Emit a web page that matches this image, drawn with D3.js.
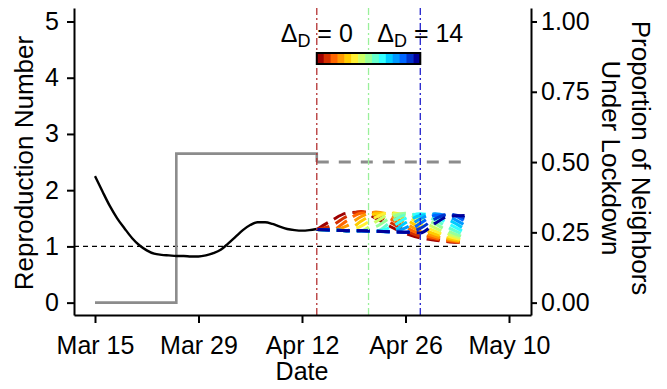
<!DOCTYPE html>
<html>
<head>
<meta charset="utf-8">
<script src="https://cdn.jsdelivr.net/npm/d3@7/dist/d3.min.js"></script>
<style>
  html, body { margin: 0; padding: 0; background: #fff; }
  svg { display: block; font-family: "Liberation Sans", Arial, Helvetica, sans-serif; }
</style>
</head>
<body>
<svg id="chart" width="667" height="389"></svg>
<script>
// Estimated reproduction number, daily from Mar 15 to Apr 14
const rStart = "2020-03-15";
const rValues = [2.25, 1.98, 1.72, 1.50, 1.32, 1.15, 1.02, 0.93, 0.87, 0.85,
                 0.84, 0.83, 0.83, 0.82, 0.82, 0.84, 0.88, 0.94, 1.05, 1.17,
                 1.29, 1.38, 1.43, 1.43, 1.40, 1.35, 1.31, 1.29, 1.28, 1.29, 1.31];

// Proportion of neighbours under lockdown (right axis)
const lockDates = ["2020-03-15", "2020-03-26", "2020-04-14", "2020-04-14"];
const lockValues = [0, 0.53, 0.53, 0.50];
const lockProjDates = ["2020-04-14", "2020-05-04"];
const lockProjValues = [0.50, 0.50];

// Projected R for lockdown lifted Δ_D days after Apr 14 (every two days)
const fanDates = ["2020-04-14", "2020-04-16", "2020-04-18", "2020-04-20", "2020-04-22",
                  "2020-04-24", "2020-04-26", "2020-04-28", "2020-04-30", "2020-05-02", "2020-05-04"];
const deltas = [0, 1, 2, 3, 4, 5, 6, 7, 8, 9, 10, 11, 12, 13, 14];
const fanD0  = [1.30, 1.46, 1.59, 1.61, 1.50, 1.35, 1.23, 1.15, 1.11, 1.08, 1.07];
const fanD1  = [1.30, 1.37, 1.53, 1.62, 1.56, 1.42, 1.28, 1.18, 1.13, 1.09, 1.07];
const fanD2  = [1.30, 1.29, 1.45, 1.59, 1.60, 1.49, 1.34, 1.22, 1.15, 1.10, 1.07];
const fanD3  = [1.30, 1.29, 1.36, 1.53, 1.61, 1.55, 1.41, 1.27, 1.18, 1.12, 1.08];
const fanD4  = [1.30, 1.29, 1.28, 1.45, 1.58, 1.59, 1.48, 1.33, 1.22, 1.14, 1.09];
const fanD5  = [1.30, 1.29, 1.28, 1.36, 1.52, 1.60, 1.54, 1.40, 1.27, 1.17, 1.11];
const fanD6  = [1.30, 1.29, 1.28, 1.28, 1.44, 1.57, 1.58, 1.47, 1.33, 1.21, 1.13];
const fanD7  = [1.30, 1.29, 1.28, 1.28, 1.35, 1.51, 1.59, 1.53, 1.40, 1.26, 1.16];
const fanD8  = [1.30, 1.29, 1.28, 1.28, 1.27, 1.43, 1.56, 1.57, 1.47, 1.32, 1.20];
const fanD9  = [1.30, 1.29, 1.28, 1.28, 1.27, 1.34, 1.50, 1.58, 1.53, 1.39, 1.25];
const fanD10 = [1.30, 1.29, 1.28, 1.28, 1.27, 1.26, 1.42, 1.55, 1.57, 1.46, 1.31];
const fanD11 = [1.30, 1.29, 1.28, 1.28, 1.27, 1.26, 1.33, 1.49, 1.58, 1.52, 1.38];
const fanD12 = [1.30, 1.29, 1.28, 1.28, 1.27, 1.26, 1.25, 1.41, 1.55, 1.56, 1.45];
const fanD13 = [1.30, 1.29, 1.28, 1.28, 1.27, 1.26, 1.25, 1.32, 1.49, 1.57, 1.51];
const fanD14 = [1.30, 1.29, 1.28, 1.28, 1.27, 1.26, 1.25, 1.24, 1.41, 1.54, 1.55];
const fanSeries = [fanD0, fanD1, fanD2, fanD3, fanD4, fanD5, fanD6, fanD7,
                   fanD8, fanD9, fanD10, fanD11, fanD12, fanD13, fanD14];
const deltaColors = ["#9e0000", "#d42f00", "#ff6600", "#ff9900", "#ffcc00",
                     "#fff033", "#ccff66", "#99ff99", "#66ffcc", "#33ffff",
                     "#00ccff", "#0099ff", "#0066ff", "#0033cc", "#000099"];

// Reference lines for lifting dates (Δ_D = 0, 7, 14)
const liftDates = ["2020-04-14", "2020-04-21", "2020-04-28"];
const liftColors = ["#b43232", "#9af09a", "#2222cc"];

// Axis ticks
const xTickDates = ["2020-03-15", "2020-03-29", "2020-04-12", "2020-04-26", "2020-05-10"];
const yLeftTicks = [0, 1, 2, 3, 4, 5];
const yRightTicks = [0, 0.25, 0.5, 0.75, 1];

const parse = d3.timeParse("%Y-%m-%d");
const svg = d3.select("#chart");
const FS = 25;

// Scales
const x = d3.scaleTime()
  .domain([parse("2020-03-15"), parse("2020-05-10")])
  .range([95, 509]);
x.domain([x.invert(74), x.invert(531)]).range([74, 531]);
const yL = d3.scaleLinear().domain([-0.22, 5.24]).range([315, 8]);
const yR = d3.scaleLinear().domain([-0.044, 1.048]).range([315, 8]);
const col = d3.scaleOrdinal().domain(deltas).range(deltaColors);

const rDates = rValues.map((_, i) => d3.timeDay.offset(parse(rStart), i));

// Threshold R = 1
svg.append("line")
  .attr("x1", x.range()[0]).attr("x2", x.range()[1])
  .attr("y1", yL(1)).attr("y2", yL(1))
  .attr("stroke", "#000").attr("stroke-width", 1.3)
  .attr("stroke-dasharray", "5,4");

// Lockdown proportion
svg.append("path")
  .datum(lockDates.map((d, i) => [parse(d), lockValues[i]]))
  .attr("fill", "none").attr("stroke", "#8c8c8c").attr("stroke-width", 2.6)
  .attr("d", d3.line().x(d => x(d[0])).y(d => yR(d[1])).curve(d3.curveStepAfter));
svg.append("path")
  .datum(lockProjDates.map((d, i) => [parse(d), lockProjValues[i]]))
  .attr("fill", "none").attr("stroke", "#8c8c8c").attr("stroke-width", 3)
  .attr("stroke-dasharray", "12,10")
  .attr("d", d3.line().x(d => x(d[0])).y(d => yR(d[1])));

// Projected R, one dashed line per Δ_D
const fanLine = d3.line().x(d => x(d[0])).y(d => yL(d[1])).curve(d3.curveMonotoneX);
svg.append("g").selectAll("path")
  .data(fanSeries.map((vals, k) => ({ k: deltas[k], pts: vals.map((v, i) => [parse(fanDates[i]), v]) })))
  .join("path")
  .attr("fill", "none")
  .attr("stroke", d => col(d.k))
  .attr("stroke-width", 3)
  .attr("stroke-dasharray", "13,7")
  .attr("d", d => fanLine(d.pts));

// Estimated R
svg.append("path")
  .datum(rDates.map((d, i) => [d, rValues[i]]))
  .attr("fill", "none").attr("stroke", "#000").attr("stroke-width", 2.4)
  .attr("d", d3.line().x(d => x(d[0])).y(d => yL(d[1])).curve(d3.curveMonotoneX));

// Lifting-date reference lines
svg.append("g").selectAll("line")
  .data(liftDates)
  .join("line")
  .attr("x1", d => x(parse(d))).attr("x2", d => x(parse(d)))
  .attr("y1", 8).attr("y2", 315)
  .attr("stroke", (d, i) => liftColors[i])
  .attr("stroke-width", 1.3)
  .attr("stroke-dasharray", "7,3,2,3");

// Colour bar for Δ_D
const cb = d3.scaleBand().domain(deltas)
  .range([x(parse(liftDates[0])), x(parse(liftDates[2]))]);
svg.append("g").selectAll("rect")
  .data(deltas)
  .join("rect")
  .attr("x", d => cb(d)).attr("width", cb.bandwidth() + 0.5)
  .attr("y", 53).attr("height", 11)
  .attr("fill", d => col(d));
svg.append("rect")
  .attr("x", cb.range()[0]).attr("width", cb.range()[1] - cb.range()[0])
  .attr("y", 53).attr("height", 11)
  .attr("fill", "none").attr("stroke", "#000").attr("stroke-width", 2);

function deltaLabel(xPos, value) {
  const t = svg.append("text")
    .attr("x", xPos).attr("y", 42)
    .attr("text-anchor", "middle")
    .attr("font-size", FS);
  t.append("tspan").text("Δ");
  t.append("tspan").attr("font-size", 18).attr("dy", 5).text("D");
  t.append("tspan").attr("dy", -5).text(" = " + value);
}
deltaLabel(x(parse(liftDates[0])), deltas[0]);
deltaLabel(x(parse(liftDates[2])), deltas[deltas.length - 1]);

// Axes
const fmt = d3.timeFormat("%b %-d");
const gx = svg.append("g").attr("transform", "translate(0,315)")
  .call(d3.axisBottom(x).tickValues(xTickDates.map(parse)).tickFormat(fmt)
    .tickSize(8).tickSizeOuter(0).tickPadding(13));
const gl = svg.append("g").attr("transform", "translate(74,0)")
  .call(d3.axisLeft(yL).tickValues(yLeftTicks).tickFormat(d3.format("d"))
    .tickSize(7).tickSizeOuter(0).tickPadding(8));
const gr = svg.append("g").attr("transform", "translate(531,0)")
  .call(d3.axisRight(yR).tickValues(yRightTicks).tickFormat(d3.format(".2f"))
    .tickSize(6).tickSizeOuter(0).tickPadding(4));
[gx, gl, gr].forEach(g => {
  g.selectAll(".domain").attr("stroke-width", 2);
  g.selectAll(".tick line").attr("stroke-width", 2);
  g.selectAll("text").attr("font-size", FS).attr("fill", "#000")
    .attr("font-family", "Liberation Sans, Arial, Helvetica, sans-serif");
});

// Axis titles
svg.append("text").attr("x", 302).attr("y", 380)
  .attr("text-anchor", "middle").attr("font-size", FS).text("Date");
svg.append("text").attr("transform", "translate(33,163) rotate(-90)")
  .attr("text-anchor", "middle").attr("font-size", 26).text("Reproduction Number");
svg.append("text").attr("transform", "translate(632,158) rotate(90)")
  .attr("text-anchor", "middle").attr("font-size", 26).text("Proportion of Neighbors");
svg.append("text").attr("transform", "translate(602,158) rotate(90)")
  .attr("text-anchor", "middle").attr("font-size", 26).text("Under Lockdown");
</script>
</body>
</html>
